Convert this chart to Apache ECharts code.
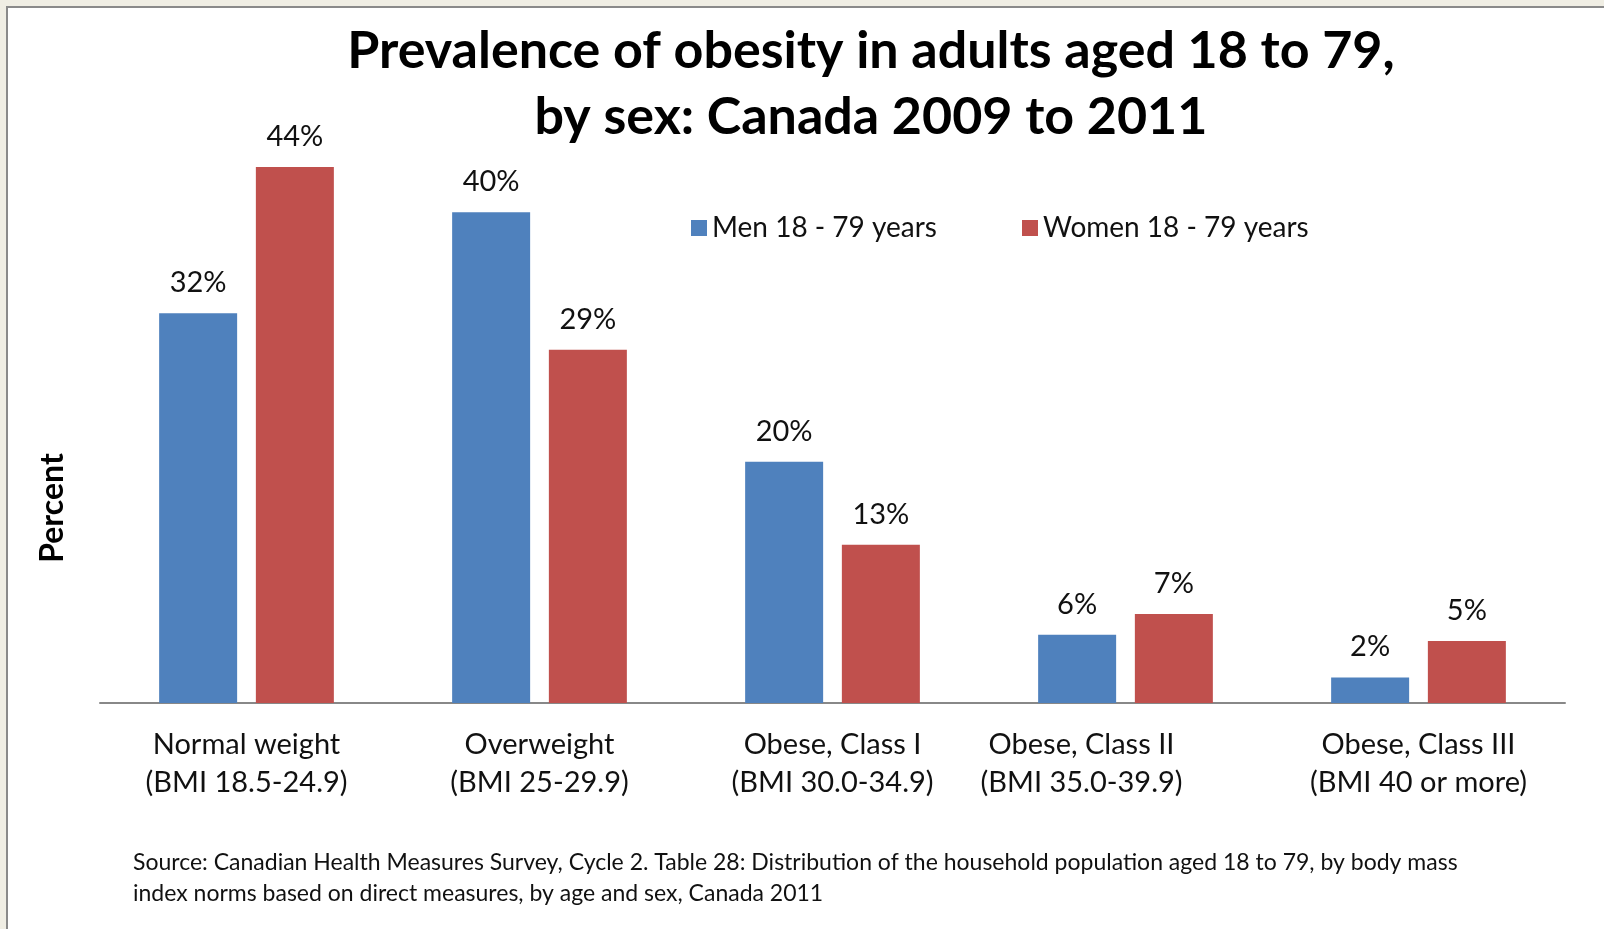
<!DOCTYPE html>
<html>
<head>
<meta charset="utf-8">
<script src="https://cdn.jsdelivr.net/npm/echarts@6/dist/echarts.min.js"></script>
<style>
html,body{margin:0;padding:0;background:#f0eee4;}
#chart{width:1604px;height:929px;}
</style>
</head>
<body>
<div id="chart"></div>
<script>
const categories = ['Normal weight\n(BMI 18.5-24.9)', 'Overweight\n(BMI 25-29.9)', 'Obese, Class I\n(BMI 30.0-34.9)', 'Obese, Class II\n(BMI 35.0-39.9)', 'Obese, Class III\n(BMI 40 or more)'];
const menValues = [32.0, 40.3, 19.8, 5.6, 2.1];
const womenValues = [44.0, 29.0, 13.0, 7.3, 5.1];
const seriesNames = ['Men 18 - 79 years', 'Women 18 - 79 years'];
const titleText = 'Prevalence of obesity in adults aged 18 to 79,\nby sex: Canada 2009 to 2011';
const yAxisTitle = 'Percent';
const sourceText = 'Source: Canadian Health Measures Survey, Cycle 2. Table 28: Distribution of the household population aged 18 to 79, by body mass\nindex norms based on direct measures, by age and sex, Canada 2011';

const FONT = 'Lato, "Open Sans", sans-serif';
// the 4th category label sits shifted left in the original, as Excel placed it
const labelShift = [0, 0, 0, 88, 0];
const xData = categories.map((c, i) => labelShift[i] ? {value: c, textStyle: {padding: [0, labelShift[i], 0, 0]}} : c);

const chart = echarts.init(document.getElementById('chart'), null, {renderer: 'canvas'});
const labelOpt = {
  show: true, position: 'top', distance: 16,
  fontFamily: FONT, fontSize: 29, color: '#111',
  formatter: p => Math.round(p.value) + '%'
};
chart.setOption({
  backgroundColor: 'transparent',
  animation: false,
  title: {
    text: titleText, left: 866, top: 13, textAlign: 'center',
    textStyle: {fontFamily: FONT, fontWeight: 'bold', fontSize: 52, lineHeight: 66, color: '#000'}
  },
  legend: {
    data: seriesNames, left: 686, top: 208, icon: 'rect', itemWidth: 16, itemHeight: 16, itemGap: 85,
    textStyle: {fontFamily: FONT, fontSize: 28, color: '#111', lineHeight: 30}
  },
  grid: {left: 100, right: 39, top: 94, bottom: 226, containLabel: false},
  xAxis: {
    type: 'category', data: xData,
    axisLine: {lineStyle: {color: '#888', width: 2}},
    axisTick: {show: false},
    axisLabel: {fontFamily: FONT, fontSize: 29, lineHeight: 38, color: '#111', margin: 23, interval: 0}
  },
  yAxis: {
    type: 'value', min: 0, max: 50,
    show: false, splitLine: {show: false}
  },
  graphic: [
    {type: 'rect', z: -10, shape: {x: 7, y: 7, width: 1700, height: 1000}, style: {fill: '#fff', stroke: '#8a8a8a', lineWidth: 2}, silent: true},
    {type: 'text', x: 53, y: 508, rotation: Math.PI / 2, style: {text: yAxisTitle, fontFamily: FONT, fontWeight: 'bold', fontSize: 32, fill: '#000', align: 'center', verticalAlign: 'middle'}},
    {type: 'text', x: 133, y: 847, style: {text: sourceText, fontFamily: FONT, fontSize: 23, lineHeight: 31, fill: '#111', align: 'left', verticalAlign: 'top'}}
  ],
  series: [
    {name: seriesNames[0], type: 'bar', data: menValues, barWidth: 78, barGap: '24%', itemStyle: {color: '#4f81bd'}, label: labelOpt},
    {name: seriesNames[1], type: 'bar', data: womenValues, barWidth: 78, barGap: '24%', itemStyle: {color: '#c0504d'}, label: labelOpt}
  ]
});
</script>
</body>
</html>
